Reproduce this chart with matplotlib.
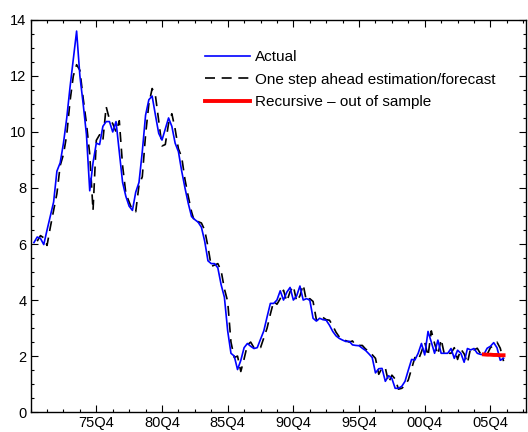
import matplotlib

matplotlib.use("Agg")
import matplotlib.pyplot as plt
from matplotlib.ticker import FixedLocator, MultipleLocator

plt.rcParams["font.family"] = ["Liberation Sans", "DejaVu Sans"]

# Quarterly series, 1971Q1 .. 2006Q4 (one row per year)
actual = [
    6.05, 6.25, 6.20, 5.98,
    6.50, 7.00, 7.50, 8.60,
    8.90, 9.60, 10.50, 11.60,
    12.60, 13.60, 12.00, 11.00,
    9.90, 7.90, 8.90, 9.60,
    9.55, 10.20, 10.37, 10.37,
    10.00, 10.37, 9.30, 8.20,
    7.70, 7.35, 7.20, 7.85,
    8.20, 9.30, 10.60, 11.15,
    11.28, 10.60, 9.95, 9.71,
    10.10, 10.50, 10.20, 9.60,
    9.30, 8.60, 8.00, 7.45,
    6.98, 6.87, 6.78, 6.60,
    6.10, 5.40, 5.30, 5.30,
    5.15, 4.55, 4.10, 2.90,
    2.10, 2.00, 1.52, 1.85,
    2.30, 2.45, 2.35, 2.27,
    2.30, 2.60, 2.90, 3.40,
    3.88, 3.88, 4.00, 4.33,
    4.00, 4.28, 4.45, 4.00,
    4.15, 4.50, 4.00, 4.05,
    4.00, 3.35, 3.25, 3.35,
    3.30, 3.28, 3.10, 2.88,
    2.72, 2.63, 2.57, 2.52,
    2.53, 2.40, 2.38, 2.37,
    2.28, 2.20, 2.08, 1.95,
    1.40, 1.55, 1.56, 1.10,
    1.30, 1.20, 0.85, 0.85,
    0.92, 1.10, 1.50, 1.88,
    1.86, 2.10, 2.45, 2.04,
    2.88, 2.50, 2.10, 2.57,
    2.10, 2.10, 2.10, 2.27,
    1.92, 2.21, 2.10, 1.78,
    2.27, 2.22, 2.27, 2.10,
    2.06, 2.06, 2.28, 2.35,
    2.48, 2.30, 1.85, 1.92,
]

# One step ahead estimation/forecast, 1971Q2 .. 2006Q4
forecast = [
    6.10, 6.30, 6.22,
    5.95, 6.60, 7.20, 7.80,
    8.80, 9.20, 9.90, 11.10,
    12.00, 12.40, 12.20, 11.20,
    10.30, 9.20, 7.20, 9.70,
    9.90, 9.70, 10.90, 10.45,
    10.30, 10.00, 10.40, 8.80,
    7.80, 7.50, 7.20, 7.15,
    8.10, 8.40, 9.90, 11.00,
    11.55, 11.30, 10.40, 9.50,
    9.55, 10.30, 10.65, 10.10,
    9.40, 9.10, 8.30, 7.70,
    7.15, 6.75, 6.80, 6.75,
    6.50, 5.90, 5.20, 5.25,
    5.30, 5.05, 4.40, 3.95,
    2.50, 1.95, 2.00, 1.45,
    1.90, 2.40, 2.50, 2.30,
    2.25, 2.30, 2.65, 3.00,
    3.50, 3.95, 3.85, 4.05,
    4.35, 3.95, 4.30, 4.50,
    3.95, 4.15, 4.55, 3.95,
    4.05, 3.95, 3.30, 3.25,
    3.38, 3.30, 3.28, 3.08,
    2.85, 2.68, 2.60, 2.55,
    2.50, 2.54, 2.38, 2.38,
    2.38, 2.25, 2.18, 2.05,
    1.92, 1.35, 1.58, 1.58,
    1.05, 1.32, 1.18, 0.82,
    0.85, 0.95, 1.15, 1.55,
    1.95, 1.85, 2.15, 2.50,
    2.00, 2.90, 2.45, 2.05,
    2.60, 2.05, 2.10, 2.10,
    2.30, 1.88, 2.25, 2.08,
    1.75, 2.30, 2.22, 2.28,
    2.08, 2.05, 2.06, 2.30,
    2.38, 2.50, 2.28, 1.82,
]

# Recursive out-of-sample path, 2005Q2 .. 2006Q4
recursive = [2.06, 2.05, 2.05, 2.04, 2.04, 2.03, 2.03]

tick_labels = ["75Q4", "80Q4", "85Q4", "90Q4", "95Q4", "00Q4", "05Q4"]
tick_years = [1975.75, 1980.75, 1985.75, 1990.75, 1995.75, 2000.75, 2005.75]

t_actual = [1971 + i / 4 for i in range(len(actual))]
t_forecast = [1971.25 + i / 4 for i in range(len(forecast))]
t_recursive = [2005.25 + i / 4 for i in range(len(recursive))]

fig = plt.figure(figsize=(5.28, 4.32), dpi=100)
ax = fig.add_axes([0.058, 0.046, 0.938, 0.908])

ax.plot(t_actual, actual, color="#0000ff", linewidth=1.2, label="Actual", zorder=3)
ax.plot(t_forecast, forecast, color="black", linewidth=1.2, dashes=(6, 4),
        label="One step ahead estimation/forecast", zorder=2)
ax.plot(t_recursive, recursive, color="#ff0000", linewidth=2.8,
        label="Recursive \u2013 out of sample", zorder=4)

ax.set_xlim(1970.75, 2008.45)
ax.set_ylim(0, 14)

ax.xaxis.set_major_locator(FixedLocator(tick_years))
ax.set_xticklabels(tick_labels)
ax.xaxis.set_minor_locator(FixedLocator([1970.75 + 1.25 * k for k in range(31)]))
ax.yaxis.set_major_locator(MultipleLocator(2))
ax.yaxis.set_minor_locator(MultipleLocator(0.5))

ax.tick_params(which="both", direction="in", top=True, right=True,
               width=0.8, labelsize=10.5, colors="black")
ax.tick_params(which="major", length=5, pad=3)
ax.tick_params(which="minor", length=2.5)
for sp in ax.spines.values():
    sp.set_linewidth(1.0)

ax.legend(loc="upper left", bbox_to_anchor=(0.34, 0.938), frameon=False,
          fontsize=11, handlelength=2.95, handletextpad=0.33, labelspacing=0.55,
          borderaxespad=0)

fig.savefig("out.png", dpi=100)
